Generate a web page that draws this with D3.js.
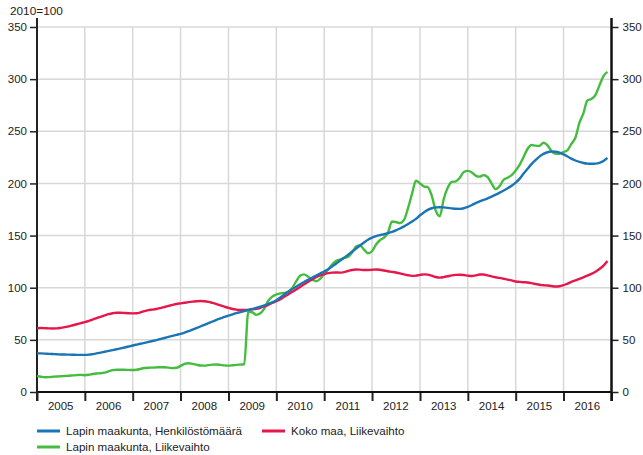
<!DOCTYPE html>
<html>
<head>
<meta charset="utf-8">
<script src="https://cdn.jsdelivr.net/npm/d3@7"></script>
<style>
  body { margin: 0; background: #fff; }
  svg text { font-family: "Liberation Sans", Arial, sans-serif; fill: #222; }
</style>
</head>
<body>
<svg id="chart" width="643" height="455"></svg>
<script>
// monthly values Jan 2005 - Dec 2016, index 2010=100
const startYear = 2005;
const years = [2005, 2006, 2007, 2008, 2009, 2010, 2011, 2012, 2013, 2014, 2015, 2016];
const yTicks = [0, 50, 100, 150, 200, 250, 300, 350];

const henkilosto = [
  37.2, 37.0, 36.8, 36.6, 36.4, 36.2, 36.0, 35.9, 35.8, 35.7, 35.6, 35.6,
  35.6, 35.8, 36.3, 37.0, 37.8, 38.6, 39.4, 40.2, 41.0, 41.8, 42.7, 43.6,
  44.6, 45.5, 46.3, 47.1, 48.0, 48.9, 49.8, 50.8, 51.8, 52.8, 53.8, 54.8,
  55.8, 57.0, 58.3, 59.7, 61.2, 62.8, 64.4, 66.0, 67.6, 69.2, 70.6, 72.0,
  73.3, 74.5, 75.6, 76.6, 77.6, 78.6, 79.6, 80.6, 81.8, 83.0, 84.4, 86.0,
  88.0, 90.6, 93.3, 96.0, 98.6, 101.0, 103.3, 105.5, 107.6, 109.6, 111.6, 113.6,
  115.6, 117.8, 120.3, 123.0, 125.8, 128.6, 131.5, 134.5, 137.5, 140.5, 143.4, 146.0,
  148.0, 149.4, 150.4, 151.3, 152.3, 153.5, 155.0, 156.8, 158.8, 161.0, 163.4, 166.0,
  169.5, 172.3, 174.6, 176.2, 177.0, 177.2, 177.0, 176.6, 176.1, 175.7, 175.6, 176.2,
  177.5, 179.3, 181.1, 182.7, 184.2, 185.7, 187.3, 189.2, 191.2, 193.2, 195.4, 197.8,
  200.8, 204.6, 209.2, 214.0, 218.5, 222.4, 225.7, 228.3, 229.9, 230.6, 230.4, 229.5,
  227.8, 225.8, 223.8, 222.0, 220.6, 219.6, 219.0, 218.8, 219.0, 219.8, 221.5, 224.5
];

const kokoMaa = [
  61.2, 61.3, 61.2, 61.0, 60.9, 61.0, 61.5, 62.2, 63.0, 64.0, 65.0, 66.0,
  67.0, 68.2, 69.5, 70.8, 72.1, 73.4, 74.6, 75.5, 76.0, 76.0, 75.7, 75.5,
  75.4, 75.5, 76.3, 77.6, 78.5, 79.0, 79.6, 80.5, 81.5, 82.5, 83.5, 84.4,
  85.0, 85.6, 86.2, 86.7, 87.0, 87.2, 87.0, 86.4, 85.4, 84.3, 83.0, 81.8,
  80.6, 79.6, 79.0, 78.6, 78.6, 78.8, 79.2, 79.8, 80.8, 82.0, 83.6, 85.4,
  87.0, 89.0, 91.3, 93.5, 95.8, 98.3, 100.8, 103.3, 105.8, 108.0, 110.0, 111.8,
  113.0, 114.0, 114.5, 114.6, 114.5, 115.0, 116.0, 117.0, 117.4, 117.3, 117.0, 117.0,
  117.2, 117.5, 117.2, 116.5, 115.8, 115.2, 114.6, 113.8, 112.8, 112.0, 111.4, 111.6,
  112.3, 112.8, 112.5, 111.5, 110.3, 109.7, 110.2, 111.0, 111.8, 112.3, 112.5, 112.2,
  111.6, 111.2, 111.8, 112.6, 112.6, 111.8, 110.8, 110.0, 109.4, 108.6, 107.8, 107.0,
  106.0, 105.6, 105.3, 105.0, 104.4, 103.6, 102.8, 102.4, 102.1, 101.6, 101.2, 101.4,
  102.4, 104.0, 105.6, 107.0, 108.4, 109.9, 111.5, 113.3, 115.4, 117.9, 121.2, 125.6
];

const lappiLiikevaihto = [
  15.3, 14.6, 14.2, 14.3, 14.6, 14.9, 15.1, 15.4, 15.6, 15.9, 16.2, 16.4,
  16.1, 16.5, 17.3, 17.8, 18.0, 18.6, 19.8, 21.0, 21.4, 21.4, 21.3, 21.2,
  21.1, 21.3, 22.2, 23.0, 23.3, 23.4, 23.6, 23.8, 23.7, 23.4, 22.9, 23.2,
  25.0, 27.0, 27.6, 27.0, 26.2, 25.4, 25.3, 25.8, 26.2, 26.4, 26.0, 25.5,
  25.3, 25.6, 26.0, 26.3, 26.6, 77.0, 76.5, 74.0, 75.5, 80.0, 87.5, 91.5,
  93.5, 94.6, 95.0, 96.2, 99.5, 106.0, 111.5, 112.8, 110.5, 108.0, 106.2, 108.5,
  113.0, 117.5, 122.0, 125.5, 127.0, 128.5, 129.5, 133.5, 139.5, 140.5, 136.5, 133.0,
  135.0, 141.5, 145.5, 148.0, 152.5, 163.5, 163.0, 162.0, 165.0, 176.0, 190.0, 202.5,
  200.0, 197.0, 196.5, 188.0, 174.0, 168.5, 185.0, 196.0, 201.5, 202.0, 205.5, 211.0,
  212.0, 210.5, 207.5, 206.5, 208.0, 206.0, 200.0, 194.5, 197.5, 203.5, 205.5, 208.0,
  212.5, 218.0, 225.0, 233.0, 236.8, 236.2, 236.0, 239.0, 236.5, 231.0, 228.5, 228.5,
  230.0, 232.0, 238.0, 244.0, 258.0, 267.5, 279.5, 281.0, 285.0, 294.0, 303.0, 307.0
];

const series = [
  { name: "Lapin maakunta, Henkilöstömäärä", values: henkilosto, color: "#1b75b5" },
  { name: "Koko maa, Liikevaihto", values: kokoMaa, color: "#e6174b" },
  { name: "Lapin maakunta, Liikevaihto", values: lappiLiikevaihto, color: "#44bd3f" }
];

const svg = d3.select("#chart");
const plotLeft = 37, plotRight = 611.5, plotTop = 27, plotBottom = 392;

const x = d3.scaleTime()
  .domain([new Date(startYear, 0, 1), new Date(2017, 0, 1)])
  .range([plotLeft, plotRight]);
const y = d3.scaleLinear().domain([0, 350]).range([plotBottom, plotTop]);

const monthDate = i => new Date(startYear, i, 1);

// grid
svg.append("g").selectAll("line")
  .data(yTicks.filter(d => d > 0))
  .join("line")
  .attr("x1", plotLeft).attr("x2", plotRight)
  .attr("y1", d => y(d)).attr("y2", d => y(d))
  .attr("stroke", "#d8d8d8").attr("stroke-width", 1.5);

svg.append("g").selectAll("line")
  .data(years.slice(1).map(yr => new Date(yr, 0, 1)))
  .join("line")
  .attr("x1", d => x(d)).attr("x2", d => x(d))
  .attr("y1", plotTop).attr("y2", plotBottom)
  .attr("stroke", "#d8d8d8").attr("stroke-width", 1.5);

// y axes
const yLeft = svg.append("g")
  .attr("transform", `translate(${plotLeft},0)`)
  .call(d3.axisLeft(y).tickValues(yTicks).tickSize(7).tickPadding(3));
const yRight = svg.append("g")
  .attr("transform", `translate(${plotRight},0)`)
  .call(d3.axisRight(y).tickValues(yTicks).tickSize(7).tickPadding(4));
[yLeft, yRight].forEach(g => {
  g.select(".domain").remove();
  g.selectAll(".tick line").attr("stroke", "#222").attr("stroke-width", 1.5);
  g.selectAll(".tick text").style("font-size", "11.5px").attr("fill", "#222");
});

// x axis ticks at year boundaries
const xAxis = svg.append("g")
  .attr("transform", `translate(0,${plotBottom})`)
  .call(d3.axisBottom(x)
    .tickValues(years.map(yr => new Date(yr, 0, 1)).concat([new Date(2017, 0, 1)]))
    .tickSize(9).tickFormat(""));
xAxis.select(".domain").remove();
xAxis.selectAll(".tick line").attr("stroke", "#222").attr("stroke-width", 2);

svg.append("g").selectAll("text")
  .data(years)
  .join("text")
  .attr("x", d => x(new Date(d, 6, 1)))
  .attr("y", plotBottom + 18)
  .attr("text-anchor", "middle")
  .style("font-size", "11.5px")
  .text(d => d);

// axis lines
svg.append("line").attr("x1", plotLeft - 0.5).attr("x2", plotRight + 0.5)
  .attr("y1", plotBottom).attr("y2", plotBottom)
  .attr("stroke", "#111").attr("stroke-width", 2);
svg.append("line").attr("x1", plotLeft).attr("x2", plotLeft)
  .attr("y1", 18).attr("y2", plotBottom + 9)
  .attr("stroke", "#222").attr("stroke-width", 2);
svg.append("line").attr("x1", plotRight).attr("x2", plotRight)
  .attr("y1", 18).attr("y2", plotBottom + 9)
  .attr("stroke", "#111").attr("stroke-width", 2.5);

svg.append("text")
  .attr("x", 10).attr("y", 15)
  .style("font-size", "11.8px")
  .text("2010=100");

// lines
const line = d3.line()
  .x((d, i) => x(monthDate(i)))
  .y(d => y(d))
  .curve(d3.curveMonotoneX);

svg.append("g").selectAll("path")
  .data([series[2], series[1], series[0]])
  .join("path")
  .attr("fill", "none")
  .attr("stroke", d => d.color)
  .attr("stroke-width", 2.4)
  .attr("stroke-linejoin", "round")
  .attr("d", d => line(d.values));

// legend
const legendPos = [[37, 431], [262, 431], [37, 447]];
const legend = svg.append("g").selectAll("g")
  .data(series)
  .join("g")
  .attr("transform", (d, i) => `translate(${legendPos[i][0]},${legendPos[i][1]})`);
legend.append("line")
  .attr("x1", 0).attr("x2", 23)
  .attr("stroke", d => d.color).attr("stroke-width", 3);
legend.append("text")
  .attr("x", 29).attr("y", 4.2)
  .style("font-size", "11.6px")
  .text(d => d.name);
</script>
</body>
</html>
